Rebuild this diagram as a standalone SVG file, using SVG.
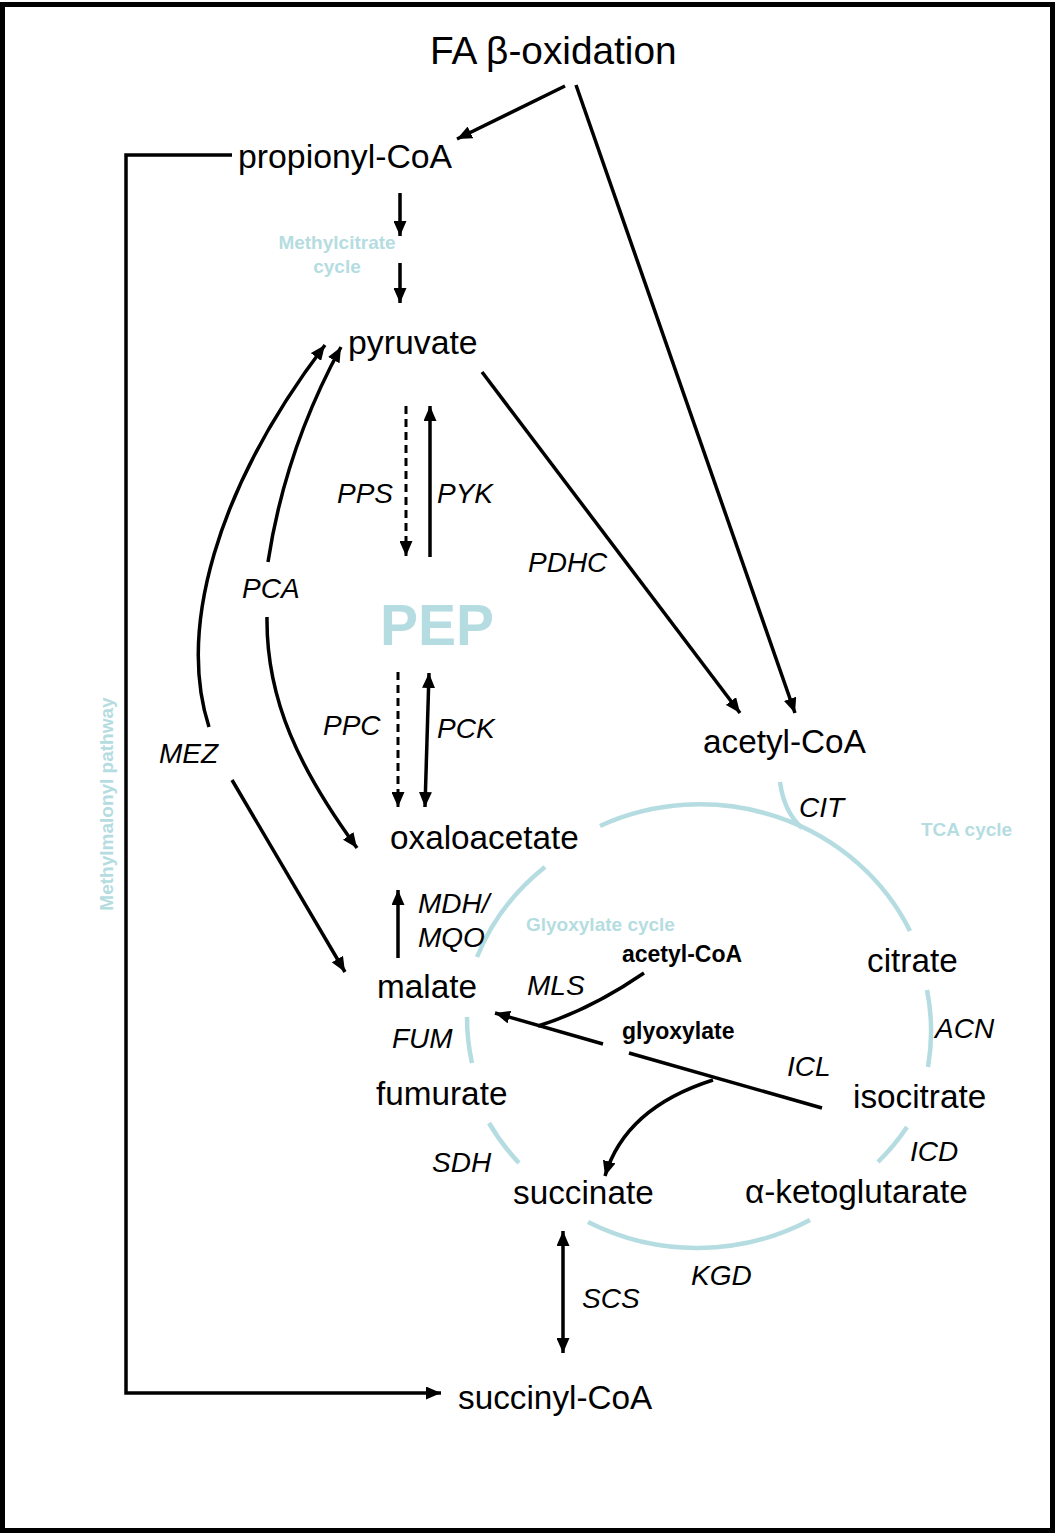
<svg xmlns="http://www.w3.org/2000/svg" width="1055" height="1533" viewBox="0 0 1055 1533">
<style>
text{font-family:"Liberation Sans",Arial,Helvetica,sans-serif;fill:#000}
.m{font-size:33.3px}
.e{font-size:28px;font-style:italic}
.b{font-size:19px;font-weight:bold;fill:#b5dde1}
.k{font-size:23px;font-weight:bold}
.ln{stroke:#000;stroke-width:3.5;fill:none}
.d{stroke-dasharray:8 5;stroke-width:3}
.arc{stroke:#b5dde1;stroke-width:4.5;fill:none}
</style>
<defs>
<marker id="ah" viewBox="0 0 15 13" refX="15" refY="6.5" markerWidth="15" markerHeight="13" markerUnits="userSpaceOnUse" orient="auto-start-reverse"><path d="M0,0 L15,6.5 L0,13 z" fill="#000"/></marker>
</defs>
<rect x="2.5" y="4.5" width="1050" height="1526" fill="#fff" stroke="#000" stroke-width="5"/>

<g id="cycles">
<path class="arc" d="M600,826 A232,221 0 0,1 910,931"/>
<path class="arc" d="M780,782 Q784,812 802,828"/>
<path class="arc" d="M927,990 A232,221 0 0,1 928,1067"/>
<path class="arc" d="M907,1127 A232,221 0 0,1 878,1162"/>
<path class="arc" d="M810,1220 A232,221 0 0,1 588,1222"/>
<path class="arc" d="M519,1163 A232,221 0 0,1 489,1123"/>
<path class="arc" d="M472,1063 A232,221 0 0,1 467,1017"/>
<path class="arc" d="M477,957 A232,221 0 0,1 545,867"/>
<text class="b" x="921" y="836">TCA cycle</text>
<text class="b" x="526" y="931">Glyoxylate cycle</text>
<text class="b" x="337" y="249" text-anchor="middle">Methylcitrate</text>
<text class="b" x="337" y="273" text-anchor="middle">cycle</text>
<text class="b" transform="translate(113,804) rotate(-90)" text-anchor="middle">Methylmalonyl pathway</text>
</g>

<g id="connectors">
<path class="ln" d="M565,86 L457,139" marker-end="url(#ah)"/>
<path class="ln" d="M576,85 L795,713" marker-end="url(#ah)"/>
<path class="ln" d="M232,155 H126 V1393 H441" marker-end="url(#ah)"/>
<path class="ln" d="M400,193 L400,236" marker-end="url(#ah)"/>
<path class="ln" d="M400,263 L400,303" marker-end="url(#ah)"/>
<path class="ln" d="M482,372 L740,713" marker-end="url(#ah)"/>
<path class="ln d" d="M406,406 L406,556" marker-end="url(#ah)"/>
<path class="ln" d="M430,557 L430,406" marker-end="url(#ah)"/>
<path class="ln" d="M209,727 C178,630 215,490 325,345" marker-end="url(#ah)"/>
<path class="ln" d="M268,562 Q285,450 341,347" marker-end="url(#ah)"/>
<path class="ln" d="M267,617 C266,700 300,770 357,848" marker-end="url(#ah)"/>
<path class="ln" d="M232,780 Q285,870 345,972" marker-end="url(#ah)"/>
<path class="ln d" d="M398,672 L398,807" marker-end="url(#ah)"/>
<path class="ln" d="M429,673 L425,807" marker-start="url(#ah)" marker-end="url(#ah)"/>
<path class="ln" d="M398,958 L398,890" marker-end="url(#ah)"/>
<path class="ln" d="M644,973 Q590,1010 538,1026"/>
<path class="ln" d="M603,1044 L495,1013" marker-end="url(#ah)"/>
<path class="ln" d="M629,1053 L822,1108"/>
<path class="ln" d="M713,1080 Q625,1108 605,1176" marker-end="url(#ah)"/>
<path class="ln" d="M563,1231 L563,1353" marker-start="url(#ah)" marker-end="url(#ah)"/>
</g>

<g id="n-fa"><text x="430" y="64" style="font-size:38.8px">FA β-oxidation</text></g>
<g id="n-propionyl"><text class="m" x="238" y="168" style="font-size:33.8px">propionyl-CoA</text></g>
<g id="n-pyruvate"><text class="m" x="348" y="354" style="font-size:33.8px">pyruvate</text></g>
<g id="n-pep"><text x="380" y="645" style="font-size:57px;font-weight:bold;fill:#b5dde1">PEP</text></g>
<g id="n-acetylcoa"><text class="m" x="703" y="753">acetyl-CoA</text></g>
<g id="n-oxaloacetate"><text class="m" x="390" y="849">oxaloacetate</text></g>
<g id="n-citrate"><text class="m" x="867" y="972">citrate</text></g>
<g id="n-malate"><text class="m" x="377" y="998">malate</text></g>
<g id="n-fumarate"><text class="m" x="376" y="1105">fumurate</text></g>
<g id="n-isocitrate"><text class="m" x="853" y="1108">isocitrate</text></g>
<g id="n-succinate"><text class="m" x="513" y="1204">succinate</text></g>
<g id="n-akg"><text class="m" x="745" y="1203">α-ketoglutarate</text></g>
<g id="n-succinylcoa"><text class="m" x="458" y="1409">succinyl-CoA</text></g>
<g id="n-glyacetyl"><text class="k" x="622" y="962">acetyl-CoA</text></g>
<g id="n-glyoxylate"><text class="k" x="622" y="1039">glyoxylate</text></g>

<g id="enzymes">
<text class="e" x="337" y="503">PPS</text>
<text class="e" x="437" y="503">PYK</text>
<text class="e" x="528" y="572">PDHC</text>
<text class="e" x="242" y="598">PCA</text>
<text class="e" x="159" y="763">MEZ</text>
<text class="e" x="323" y="735">PPC</text>
<text class="e" x="437" y="738">PCK</text>
<text class="e" x="418" y="913">MDH/</text>
<text class="e" x="418" y="947">MQO</text>
<text class="e" x="799" y="817">CIT</text>
<text class="e" x="935" y="1038">ACN</text>
<text class="e" x="787" y="1076">ICL</text>
<text class="e" x="910" y="1161">ICD</text>
<text class="e" x="527" y="995">MLS</text>
<text class="e" x="392" y="1048">FUM</text>
<text class="e" x="432" y="1172">SDH</text>
<text class="e" x="582" y="1308">SCS</text>
<text class="e" x="691" y="1285">KGD</text>
</g>
</svg>
